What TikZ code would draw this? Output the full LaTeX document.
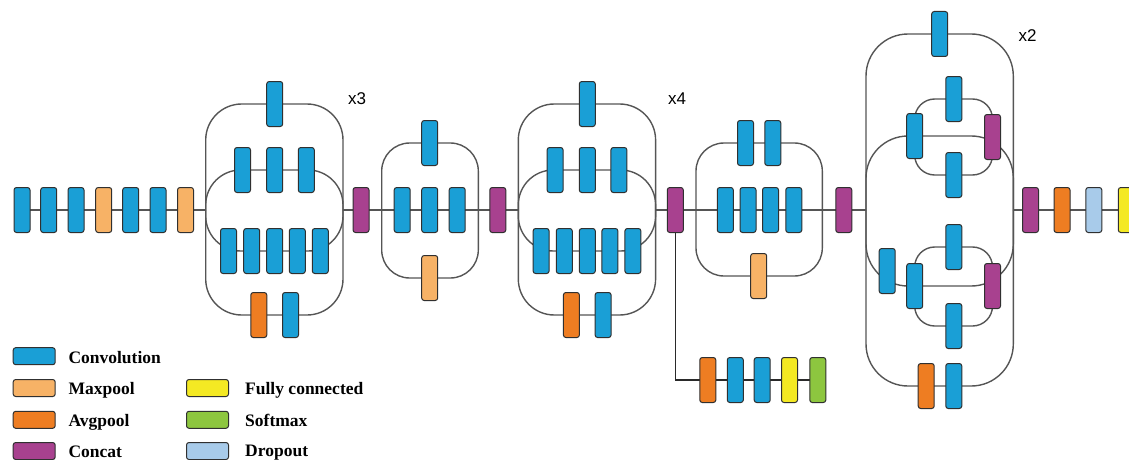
\documentclass[tikz,border=0pt]{standalone}
\usepackage{fontspec}
\setmainfont{Liberation Serif}
\newfontfamily\repfont{Liberation Sans}
\usetikzlibrary{backgrounds}

\definecolor{convc}{HTML}{1A9FD6}
\definecolor{maxc}{HTML}{F7B266}
\definecolor{avgc}{HTML}{EE7D22}
\definecolor{catc}{HTML}{A8418F}
\definecolor{fcc}{HTML}{F4E923}
\definecolor{smc}{HTML}{8DC63F}
\definecolor{dropc}{HTML}{A8CBEA}
\definecolor{edgec}{HTML}{303030}
\definecolor{wirec}{HTML}{555555}
\definecolor{auxc}{HTML}{2A2A2A}

\tikzset{
  blk/.style={draw=edgec, line width=1pt, rounded corners=2.5pt,
    minimum width=16pt, minimum height=45pt, inner sep=0pt},
  conv/.style={blk, fill=convc},
  maxp/.style={blk, fill=maxc},
  avgp/.style={blk, fill=avgc},
  cat/.style={blk, fill=catc},
  fcl/.style={blk, fill=fcc},
  smax/.style={blk, fill=smc},
  drop/.style={blk, fill=dropc},
  key/.style={draw=edgec, line width=1pt, rounded corners=2.5pt,
    minimum width=42pt, minimum height=17pt, inner sep=0pt},
  keytext/.style={anchor=base west, inner sep=0pt,
    font=\fontsize{17.5}{20}\selectfont\bfseries},
  wire/.style={draw=wirec, line width=1.4pt},
  auxwire/.style={draw=auxc, line width=1.4pt},
  rep/.style={inner sep=0pt, font=\repfont\fontsize{17}{20}\selectfont}
}

% Inception module with four branches (1 / 3 / 5 / pool+1 layers)
\newcommand\incepA[1]{%
  \coordinate (#1in) at (205.7,210);
  \coordinate (#1out) at (343,210);
  \node[conv] (#1t) at (274.7,104) {};
  \node[conv] (#1p1) at (242.5,170) {};
  \node[conv] (#1p2) at (274.7,170) {};
  \node[conv] (#1p3) at (306.3,170) {};
  \node[conv] (#1q1) at (228.5,251) {};
  \node[conv] (#1q2) at (251.7,251) {};
  \node[conv] (#1q3) at (274.7,251) {};
  \node[conv] (#1q4) at (297.3,251) {};
  \node[conv] (#1q5) at (320.3,251) {};
  \node[avgp] (#1r1) at (258.8,315) {};
  \node[conv] (#1r2) at (290.5,315) {};
  \begin{pgfonlayer}{background}
    \draw[wire, rounded corners=36pt] (#1in) |- (#1t.center -| #1out) -- (#1out);
    \draw[wire, rounded corners=36pt] (#1in) |- (#1r1.center -| #1out) -- (#1out);
    \draw[wire, rounded corners=35pt] (#1in) |- (#1p2.center -| #1out) -- (#1out);
    \draw[wire, rounded corners=35pt] (#1in) |- (#1q3.center -| #1out) -- (#1out);
  \end{pgfonlayer}}

\begin{document}
\begin{tikzpicture}[x=1pt, y=-1pt]
\useasboundingbox (0,0) rectangle (1129,460);
\clip (0,0) rectangle (1129,460);

% stem
\node[conv] (s1) at (22,210) {};
\node[conv] (s2) at (48.7,210) {};
\node[conv] (s3) at (76,210) {};
\node[maxp] (s4) at (103.7,210) {};
\node[conv] (s5) at (130.7,210) {};
\node[conv] (s6) at (158,210) {};
\node[maxp] (s7) at (185.5,210) {};

% first repeated module
\incepA{A}
\node[rep] (rA) at (357,99) {x3};
\node[cat] (cat1) at (361,210) {};

% grid reduction
\coordinate (Bin) at (381.7,210);
\coordinate (Bout) at (478.3,210);
\node[conv] (Bt) at (429.7,143) {};
\node[conv] (Bm1) at (402.2,210) {};
\node[conv] (Bm2) at (429.7,210) {};
\node[conv] (Bm3) at (457.2,210) {};
\node[maxp] (Bb) at (429.7,278) {};
\node[cat] (cat2) at (497.8,210) {};

% second repeated module
\begin{scope}[xshift=312.6pt]
  \incepA{C}
\end{scope}
\node[rep] (rC) at (677,99) {x4};
\node[cat] (cat3) at (675.3,210) {};

% auxiliary classifier
\node[avgp] (x1) at (707.8,380) {};
\node[conv] (x2) at (735.3,380) {};
\node[conv] (x3) at (762.2,380) {};
\node[fcl] (x4) at (789.5,380) {};
\node[smax] (x5) at (817.8,380) {};

% second grid reduction
\coordinate (Din) at (696,210);
\coordinate (Dout) at (822.3,210);
\node[conv] (Dt1) at (745.5,143) {};
\node[conv] (Dt2) at (772.8,143) {};
\node[conv] (Dm1) at (725.3,210) {};
\node[conv] (Dm2) at (748,210) {};
\node[conv] (Dm3) at (770.5,210) {};
\node[conv] (Dm4) at (793.8,210) {};
\node[maxp] (Db) at (758.7,276) {};
\node[cat] (cat4) at (843.8,210) {};

% third repeated module with split branches
\coordinate (Ein) at (866,210);
\coordinate (Eout) at (1013.3,210);
\node[conv] (Et) at (939.7,34) {};
\node[conv] (E2c) at (914.7,136) {};
\node[conv] (E2a) at (953.8,99) {};
\node[conv] (E2b) at (953.8,175) {};
\node[cat] (E2cat) at (992.5,137) {};
\node[conv] (E3c1) at (887.2,271) {};
\node[conv] (E3c2) at (914.7,286) {};
\node[conv] (E3a) at (953.8,247) {};
\node[conv] (E3b) at (953.8,326) {};
\node[cat] (E3cat) at (992.5,286) {};
\node[avgp] (Eb1) at (926.2,386) {};
\node[conv] (Eb2) at (953.8,386) {};
\node[rep] (rE) at (1027.5,36) {x2};

% head
\node[cat] (cat5) at (1030.5,210) {};
\node[avgp] (h1) at (1062,210) {};
\node[drop] (h2) at (1093.8,210) {};
\node[fcl] (h3) at (1126.3,210) {};

\begin{pgfonlayer}{background}
  % main line
  \draw[wire] (s1.center) -- (s2.center) -- (s3.center) -- (s4.center)
    -- (s5.center) -- (s6.center) -- (s7.center) -- (Ain);
  \draw[wire] (Aout) -- (cat1.center) -- (Bin);
  \draw[wire] (Bin) -- (Bm1.center) -- (Bm2.center) -- (Bm3.center) -- (Bout);
  \draw[wire] (Bout) -- (cat2.center) -- (Cin);
  \draw[wire] (Cout) -- (cat3.center) -- (Din);
  \draw[wire] (Din) -- (Dm1.center) -- (Dm2.center) -- (Dm3.center)
    -- (Dm4.center) -- (Dout);
  \draw[wire] (Dout) -- (cat4.center) -- (Ein);
  \draw[wire] (Eout) -- (cat5.center) -- (h1.center) -- (h2.center) -- (h3.center);
  % grid reduction loops
  \draw[wire, rounded corners=28pt] (Bin) |- (Bt.center -| Bout) -- (Bout);
  \draw[wire, rounded corners=28pt] (Bin) |- (Bb.center -| Bout) -- (Bout);
  \draw[wire, rounded corners=28pt] (Din) |- (Dt1.center -| Dout) -- (Dout);
  \draw[wire, rounded corners=28pt] (Din) |- (Db.center -| Dout) -- (Dout);
  % outer branches of the last module
  \draw[wire, rounded corners=42pt] (Ein) |- (Et.center -| Eout) -- (Eout);
  \draw[wire, rounded corners=42pt] (Ein) |- (Eb1.center -| Eout) -- (Eout);
  \draw[wire, rounded corners=42pt] (Ein) |- (E2c.center -| Eout) -- (Eout);
  \draw[wire, rounded corners=42pt] (Ein) |- (E3c2.center -| Eout) -- (Eout);
  % inner splits
  \draw[wire, rounded corners=20pt] (E2c.center) |- (E2a.center -| E2cat.center) -- (E2cat.center);
  \draw[wire, rounded corners=20pt] (E2c.center) |- (E2b.center -| E2cat.center) -- (E2cat.center);
  \draw[wire, rounded corners=20pt] (E3c2.center) |- (E3a.center -| E3cat.center) -- (E3cat.center);
  \draw[wire, rounded corners=20pt] (E3c2.center) |- (E3b.center -| E3cat.center) -- (E3cat.center);
  % auxiliary classifier
  \draw[auxwire] (cat3.center) |- (x1.center) -- (x2.center) -- (x3.center)
    -- (x4.center) -- (x5.center);
\end{pgfonlayer}

% legend
\node[key, fill=convc] (kconv) at (34.2,356.2) {};
\node[keytext] (tconv) at (68.3,363) {Convolution};
\node[key, fill=maxc] (kmax) at (34.2,388) {};
\node[keytext] (tmax) at (68.3,394.6) {Maxpool};
\node[key, fill=avgc] (kavg) at (34.2,419.8) {};
\node[keytext] (tavg) at (68.3,426.2) {Avgpool};
\node[key, fill=catc] (kcat) at (34.2,451) {};
\node[keytext] (tcat) at (68.3,457.2) {Concat};
\node[key, fill=fcc] (kfc) at (207.5,388) {};
\node[keytext] (tfc) at (245,394.6) {Fully connected};
\node[key, fill=smc] (ksm) at (207.5,419.8) {};
\node[keytext] (tsm) at (245,426.2) {Softmax};
\node[key, fill=dropc] (kdrop) at (207.5,451) {};
\node[keytext] (tdrop) at (245,456) {Dropout};
\end{tikzpicture}
\end{document}
